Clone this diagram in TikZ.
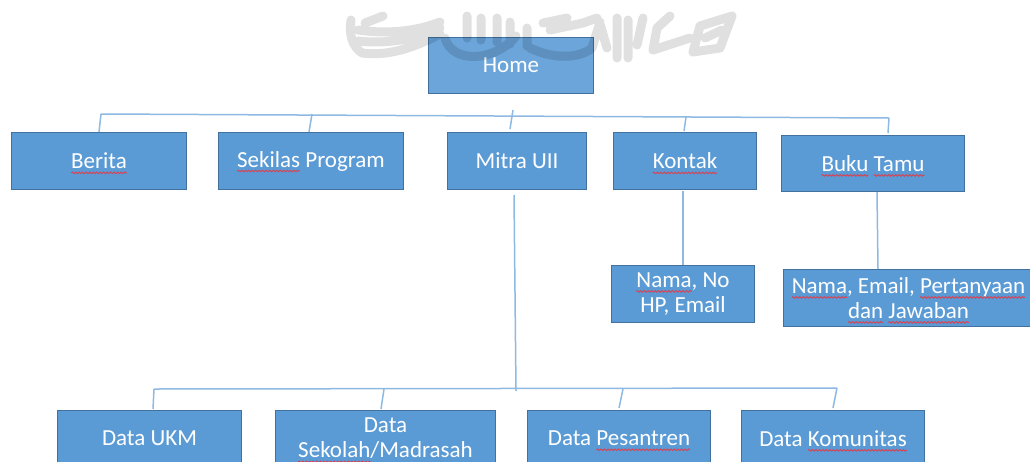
\documentclass[tikz,border=0pt]{standalone}
\usepackage{fontspec}
\usetikzlibrary{decorations.pathmorphing}
\setmainfont{Carlito}
\definecolor{BoxFill}{HTML}{5B9BD5}
\definecolor{BoxLine}{HTML}{41719C}
\definecolor{Link}{HTML}{8DB9E2}
\definecolor{Seal}{HTML}{E0E0E0}
\definecolor{Typo}{HTML}{D9414F}
\newcommand{\spell}[1]{\setbox0=\hbox{#1}\leavevmode\copy0\kern-\wd0\tikz[overlay, baseline=0pt]\draw[color=Typo, line width=0.9, decorate, decoration={snake, amplitude=0.8pt, segment length=3.5pt}] (0pt,-4pt) -- (\wd0,-4pt);\kern\wd0\relax}
\tikzset{
  menu/.style={draw=BoxLine, line width=1, fill=BoxFill, text=white, font=\fontsize{23}{25}\selectfont, align=center, inner sep=0, anchor=north west},
  link/.style={color=Link, line width=1.5},
  seal/.style={color=Seal, line width=9, line cap=round, line join=round, blend mode=multiply},
}
\begin{document}
\begin{tikzpicture}[x=1pt, y=-1pt]

 \useasboundingbox (0,0) rectangle (1030,461) ;

 % boxes
 \node (home) at (428,37) [menu, fill=BoxFill!90!white, minimum width=165, minimum height=56] {Home} ;

 \node (berita) at (11,132) [menu, minimum width=175, minimum height=57] {\spell{Berita}} ;
 \node (sekilas) at (218,132) [menu, minimum width=185, minimum height=57] {\spell{Sekilas} Program} ;
 \node (mitra) at (447,132) [menu, minimum width=139, minimum height=57] {Mitra UII} ;
 \node (kontak) at (613,132) [menu, minimum width=143, minimum height=57] {\spell{Kontak}} ;
 \node (buku) at (781,135) [menu, minimum width=183, minimum height=56] {\spell{Buku} \spell{Tamu}} ;

 \node (nama1) at (611,265) [menu, minimum width=143, minimum height=57] {\spell{Nama}, No\\HP, Email} ;
 \node (nama2) at (783,269) [menu, minimum width=250, minimum height=57] {\spell{Nama}, Email, \spell{Pertanyaan}\\\spell{dan} \spell{Jawaban}} ;

 \node (ukm) at (57,410) [menu, minimum width=184, minimum height=56] {Data UKM} ;
 \node (sekolah) at (275,410) [menu, minimum width=220, minimum height=56] {Data\\\spell{Sekolah}/Madrasah} ;
 \node (pesantren) at (527,410) [menu, minimum width=183, minimum height=56] {Data \spell{Pesantren}} ;
 \node (komunitas) at (741,410) [menu, minimum width=183, minimum height=56] {Data \spell{Komunitas}} ;

 % watermark
 \draw [seal]
   (351,20) .. controls (349,35) and (352,46) .. (362,53)
   (365,23) -- (383,16)
   (358,30) .. controls (385,34) and (415,32) .. (440,22)
   (358,41) .. controls (385,44) and (415,40) .. (440,28)
   (362,53) .. controls (385,56) and (410,50) .. (440,34)
   (445,38) .. controls (452,64) and (495,62) .. (516,36)
   (467,16) -- (467,38)
   (481,18) -- (481,40)
   (497,18) -- (497,42)
   (510,22) -- (510,44)
   (527,28) -- (527,46)
   (543,23) -- (567,18)
   (550,30) -- (583,23) -- (597,18)
   (530,48) .. controls (555,60) and (580,58) .. (592,48) -- (600,22)
   (607,48) -- (600,24)
   (617,18) -- (617,58)
   (628,20) -- (628,58)
   (643,18) -- (637,45)
   (670,16) -- (657,28) -- (653,50) -- (690,38)
   (700,26) -- (732,16) -- (720,48) -- (693,52) -- cycle
   (705,38) -- (722,30) ;

 % connectors of the top row
 \coordinate (topL) at (101,114) ;
 \coordinate (topR) at (889,118) ;
 \coordinate (tick) at (513,110) ;
 \draw [link] (topL) -- (topR) ;
 \draw [link] (berita.north west) ++(88,0) -- (topL) ;
 \draw [link] (sekilas.north west) ++(91,0) -- ++(3,-18) ;
 \draw [link] (mitra.north west) ++(63,-3) -- (tick) ;
 \draw [link] (kontak.north west) ++(71,-1) -- ++(2,-14) ;
 \draw [link] (buku.north west) ++(107,-2) -- (topR) ;

 % connectors to the lower boxes
 \coordinate (midL) at (154,389) ;
 \coordinate (midR) at (837,388) ;
 \coordinate (drop) at (516,391) ;
 \coordinate (mitraB) at (514,195) ;
 \coordinate (kontakB) at (683,191) ;
 \draw [link] (mitraB) -- (drop) ;
 \draw [link] (midL) -- (midR) ;
 \draw [link] (kontakB) -- (nama1.north -| kontakB) ;
 \draw [link] (buku.south west) ++(96,0) -- ++(1,77) ;
 \draw [link] (ukm.north west) ++(96,-1) -- (midL) ;
 \draw [link] (sekolah.north west) ++(106,-1) -- ++(3,-20) ;
 \draw [link] (pesantren.north west) ++(92,-2) -- ++(4,-19) ;
 \draw [link] (komunitas.north west) ++(92,-2) -- (midR) ;

\end{tikzpicture}
\end{document}
